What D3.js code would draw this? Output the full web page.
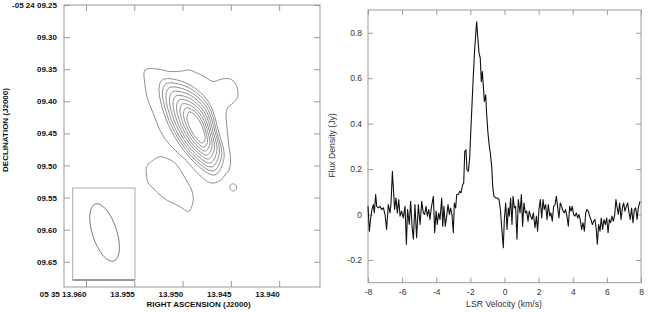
<!DOCTYPE html>
<html><head><meta charset="utf-8">
<script src="https://cdn.jsdelivr.net/npm/d3@7"></script>
<style>body{margin:0;background:#fff}svg{display:block}</style>
</head><body>
<svg id="c" width="654" height="312"></svg>
<script>
// ---------- Left panel data (RA seconds of 05h35m, Dec arcsec of -05d24') ----------
const raTicks = [13.960, 13.955, 13.950, 13.945, 13.940];
const raTickLabels = ["05 35 13.960", "13.955", "13.950", "13.945", "13.940"];
const decTicks = [9.25, 9.30, 9.35, 9.40, 9.45, 9.50, 9.55, 9.60, 9.65];
const decTickLabels = ["-05 24 09.25", "09.30", "09.35", "09.40", "09.45", "09.50", "09.55", "09.60", "09.65"];

const contourOuter = [[13.95389,9.35124],[13.95265,9.34968],[13.95130,9.35358],[13.95006,9.35280],[13.94934,9.35124],[13.94851,9.35592],[13.94768,9.36215],[13.94685,9.36915],[13.94592,9.36526],[13.94509,9.36526],[13.94457,9.37149],[13.94431,9.38084],[13.94431,9.39330],[13.94478,9.40264],[13.94530,9.40965],[13.94550,9.41978],[13.94545,9.43380],[13.94535,9.44937],[13.94525,9.46495],[13.94509,9.48052],[13.94504,9.49610],[13.94519,9.50700],[13.94561,9.51479],[13.94602,9.52258],[13.94654,9.52647],[13.94706,9.52725],[13.94757,9.52336],[13.94809,9.51713],[13.94861,9.50934],[13.94923,9.49921],[13.94975,9.48987],[13.95027,9.48364],[13.95078,9.47585],[13.95130,9.46806],[13.95172,9.46027],[13.95213,9.45093],[13.95254,9.43847],[13.95285,9.42601],[13.95327,9.41043],[13.95368,9.39330],[13.95389,9.37461]];
const contour2 = [[13.95203,9.36604],[13.94965,9.37149],[13.94737,9.39953],[13.94623,9.44937],[13.94571,9.48831],[13.94665,9.51479],[13.94903,9.49143],[13.95151,9.43535],[13.95244,9.37928]];
const contour3 = [[13.95169,9.37243],[13.94954,9.37757],[13.94747,9.40358],[13.94643,9.44922],[13.94596,9.48489],[13.94681,9.50856],[13.94897,9.48722],[13.95122,9.43613],[13.95208,9.38520]];
const contour4 = [[13.95136,9.37866],[13.94944,9.38364],[13.94757,9.40778],[13.94661,9.44906],[13.94620,9.48130],[13.94698,9.50233],[13.94892,9.48286],[13.95094,9.43691],[13.95172,9.39096]];
const contour5 = [[13.95101,9.38504],[13.94934,9.38956],[13.94768,9.41183],[13.94681,9.44875],[13.94645,9.47788],[13.94715,9.49610],[13.94887,9.47866],[13.95065,9.43769],[13.95136,9.39688]];
const contour6 = [[13.95068,9.39143],[13.94923,9.39564],[13.94778,9.41588],[13.94701,9.44859],[13.94670,9.47429],[13.94732,9.48987],[13.94882,9.47429],[13.95037,9.43847],[13.95099,9.40264]];
const contour7 = [[13.95034,9.39766],[13.94913,9.40171],[13.94789,9.41993],[13.94720,9.44844],[13.94695,9.47087],[13.94748,9.48364],[13.94877,9.47009],[13.95008,9.43925],[13.95063,9.40856]];
const contour8 = [[13.95001,9.40405],[13.94903,9.40778],[13.94799,9.42414],[13.94739,9.44828],[13.94718,9.46728],[13.94765,9.47741],[13.94872,9.46573],[13.94980,9.44003],[13.95027,9.41433]];
const contour9 = [[13.94967,9.41043],[13.94892,9.41370],[13.94809,9.42819],[13.94759,9.44797],[13.94743,9.46386],[13.94783,9.47118],[13.94866,9.46152],[13.94951,9.44081],[13.94991,9.42025]];
const contour10 = [[13.94934,9.41666],[13.94882,9.41978],[13.94820,9.43224],[13.94778,9.44782],[13.94768,9.46027],[13.94799,9.46495],[13.94861,9.45716],[13.94923,9.44158],[13.94954,9.42601]];
const contourSouth = [[13.95372,9.50186],[13.95303,9.49143],[13.95234,9.48629],[13.95164,9.48878],[13.95096,9.49408],[13.95044,9.50186],[13.94993,9.51479],[13.94941,9.52772],[13.94906,9.53815],[13.94889,9.55108],[13.94906,9.56417],[13.94941,9.57195],[13.94975,9.56931],[13.95027,9.56417],[13.95096,9.55887],[13.95164,9.55373],[13.95234,9.54594],[13.95303,9.53551],[13.95355,9.52772],[13.95372,9.51744]];
const contourKnot = [[13.94478,9.52850],[13.94447,9.53115],[13.94442,9.53582],[13.94473,9.53971],[13.94504,9.53737],[13.94509,9.53193]];
const beamRa = 13.95808, beamDec = 9.60435, beamMajor = 0.0935, beamMinor = 0.0380, beamPA = 18;
const insetRa = [13.96138, 13.95493], insetDec = [9.53504, 9.67834];

// ---------- Right panel data ----------
const velTicks = [-8, -6, -4, -2, 0, 2, 4, 6, 8];
const fluxTicks = [-0.2, 0, 0.2, 0.4, 0.6, 0.8];
const velocity = [-8.00,-7.92,-7.84,-7.77,-7.69,-7.63,-7.55,-7.49,-7.39,-7.30,-7.20,-7.10,-7.00,-6.91,-6.81,-6.71,-6.65,-6.57,-6.52,-6.44,-6.36,-6.28,-6.20,-6.12,-6.03,-5.93,-5.83,-5.75,-5.68,-5.58,-5.50,-5.42,-5.34,-5.25,-5.15,-5.05,-4.95,-4.85,-4.76,-4.68,-4.60,-4.52,-4.44,-4.37,-4.29,-4.17,-4.09,-4.01,-3.94,-3.86,-3.78,-3.68,-3.62,-3.55,-3.47,-3.39,-3.31,-3.23,-3.16,-3.08,-3.00,-2.94,-2.86,-2.80,-2.71,-2.63,-2.55,-2.45,-2.39,-2.33,-2.26,-2.20,-2.12,
-2.04,-1.98,-1.91,-1.83,-1.75,-1.67,-1.63,-1.57,-1.49,-1.42,-1.36,-1.30,-1.24,-1.18,-1.10,-1.05,-0.97,-0.89,-0.83,
-0.75,-0.69,-0.62,-0.52,-0.42,-0.32,-0.24,-0.17,-0.07,-0.01,0.07,0.15,0.22,0.28,0.36,0.44,0.50,0.58,0.65,0.73,0.81,0.91,0.99,1.06,1.14,1.22,1.30,1.38,1.45,1.53,1.61,1.69,1.79,1.87,1.94,2.02,2.10,2.18,2.26,2.33,2.41,2.49,2.57,2.65,2.72,2.80,2.88,2.96,3.04,3.12,3.19,3.27,3.35,3.43,3.51,3.58,3.66,3.74,3.82,3.90,3.97,4.05,4.13,4.21,4.29,4.37,4.44,4.52,4.60,4.68,4.76,4.83,4.91,4.99,5.07,5.15,5.23,5.30,5.38,5.44,5.52,5.60,5.67,5.75,5.83,5.91,5.99,6.07,6.14,6.22,6.30,6.38,6.46,6.53,6.59,6.67,6.75,6.83,6.91,6.98,7.06,7.14,7.22,7.30,7.37,7.45,7.53,7.61,7.69,7.77,7.84,7.94];
const flux = [0.036,-0.073,-0.015,0.022,0.044,0.007,0.088,0.036,0.029,0.036,0.022,0.029,0.000,-0.066,0.044,0.007,0.051,0.190,0.124,0.022,0.073,0.007,0.066,-0.007,0.015,-0.015,0.036,-0.131,0.022,-0.044,0.058,-0.051,-0.109,0.044,-0.102,0.044,-0.044,0.058,0.007,0.000,0.036,-0.007,0.022,-0.022,0.029,0.080,-0.080,0.015,-0.044,0.007,-0.022,0.073,-0.051,0.036,-0.051,-0.007,0.044,0.000,0.029,0.000,-0.080,0.051,0.029,0.088,0.088,0.102,0.095,0.131,0.139,0.277,0.285,0.197,0.190,
0.25,0.359,0.476,0.607,0.724,0.812,0.848,0.782,0.709,0.688,0.585,0.629,0.564,0.498,0.527,0.447,0.359,0.301,0.272,
0.212,0.124,0.080,0.073,0.073,0.066,0.022,-0.051,-0.146,-0.022,0.051,-0.066,0.029,-0.007,0.073,-0.044,0.080,0.029,0.036,-0.109,0.066,0.007,0.088,-0.051,0.051,0.007,0.015,-0.029,0.015,-0.007,-0.022,0.007,-0.058,-0.007,-0.073,0.022,0.066,-0.015,0.066,0.022,0.044,-0.022,0.044,-0.007,0.007,-0.029,0.036,0.044,0.080,0.029,-0.015,0.051,0.036,0.015,0.007,0.022,-0.007,-0.051,0.036,0.015,0.036,0.000,-0.007,0.007,-0.015,0.000,-0.022,-0.066,-0.036,-0.073,0.007,0.022,0.015,-0.007,-0.022,-0.044,-0.029,-0.022,-0.066,-0.131,-0.044,-0.073,-0.015,-0.066,-0.022,-0.044,-0.015,-0.080,-0.022,-0.036,-0.007,-0.029,0.000,0.066,0.036,0.000,0.051,-0.022,0.029,0.051,0.015,0.036,0.051,0.007,-0.022,0.029,-0.036,0.022,0.029,-0.022,0.029,0.058];

// ---------- Drawing ----------
const svg = d3.select("#c");
const FONT = "'Liberation Sans', Arial, Helvetica, sans-serif";
const frameColor = "#9a9a9a";

function styleAxis(g, color, size, weight) {
  g.select(".domain").remove();
  g.selectAll(".tick line").attr("stroke", frameColor).attr("stroke-width", 1);
  g.selectAll("text").attr("font-family", FONT).attr("font-size", size)
    .attr("font-weight", weight).attr("fill", color);
}

// Left panel
const x1 = d3.scaleLinear().domain([13.96228, 13.93577]).range([64, 320]);
const y1 = d3.scaleLinear().domain([9.25, 9.68925]).range([5, 287]);
const g1 = svg.append("g");

g1.append("rect").attr("x", x1.range()[0]).attr("y", y1.range()[0])
  .attr("width", x1.range()[1] - x1.range()[0]).attr("height", y1.range()[1] - y1.range()[0])
  .attr("fill", "none").attr("stroke", frameColor).attr("stroke-width", 1);

const contours = [contourOuter, contour2, contour3, contour4, contour5, contour6, contour7, contour8, contour9, contour10, contourSouth, contourKnot];
const cline = d3.line().x(d => x1(d[0])).y(d => y1(d[1])).curve(d3.curveCatmullRomClosed.alpha(0.5));
g1.selectAll("path.ct").data(contours).join("path").attr("class", "ct")
  .attr("d", cline).attr("fill", "none").attr("stroke", "#606060").attr("stroke-width", 0.7);

// inset beam box
g1.append("rect").attr("x", x1(insetRa[0])).attr("y", y1(insetDec[0]))
  .attr("width", x1(insetRa[1]) - x1(insetRa[0])).attr("height", y1(insetDec[1]) - y1(insetDec[0]))
  .attr("fill", "none").attr("stroke", frameColor).attr("stroke-width", 0.8);
g1.append("line").attr("x1", x1(insetRa[0])).attr("x2", x1(insetRa[1]))
  .attr("y1", y1(insetDec[1])).attr("y2", y1(insetDec[1]))
  .attr("stroke", frameColor).attr("stroke-width", 2);
const pxPerArcsec = y1(beamDec + 1) - y1(beamDec);
g1.append("ellipse")
  .attr("transform", `translate(${x1(beamRa)},${y1(beamDec)}) rotate(${-beamPA})`)
  .attr("rx", beamMinor / 2 * pxPerArcsec).attr("ry", beamMajor / 2 * pxPerArcsec)
  .attr("fill", "none").attr("stroke", "#606060").attr("stroke-width", 0.75);

const axL1 = g1.append("g").attr("transform", `translate(${x1.range()[0]},0)`)
  .call(d3.axisLeft(y1).tickValues(decTicks).tickSize(-6).tickPadding(7).tickFormat((d, i) => decTickLabels[i]));
styleAxis(axL1, "#111", 8, "bold");
const axR1 = g1.append("g").attr("transform", `translate(${x1.range()[1]},0)`)
  .call(d3.axisRight(y1).tickValues(decTicks).tickSize(-6).tickFormat(""));
styleAxis(axR1, "#111", 8, "bold");
const axB1 = g1.append("g").attr("transform", `translate(0,${y1.range()[1]})`)
  .call(d3.axisBottom(x1).tickValues(raTicks).tickSize(-6).tickPadding(4).tickFormat((d, i) => raTickLabels[i]));
styleAxis(axB1, "#111", 8, "bold");
axB1.selectAll("text").attr("text-anchor", "end");
const axT1 = g1.append("g").attr("transform", `translate(0,${y1.range()[0]})`)
  .call(d3.axisTop(x1).tickValues(raTicks).tickSize(-6).tickFormat(""));
styleAxis(axT1, "#111", 8, "bold");

g1.append("text").attr("x", 198.5).attr("y", 306.5).attr("text-anchor", "middle")
  .attr("font-family", FONT).attr("font-size", 8).attr("font-weight", "bold").attr("fill", "#111")
  .text("RIGHT ASCENSION (J2000)");
g1.append("text").attr("transform", "translate(8.3,130) rotate(-90)").attr("text-anchor", "middle")
  .attr("font-family", FONT).attr("font-size", 8).attr("font-weight", "bold").attr("fill", "#111")
  .text("DECLINATION (J2000)");

// Right panel
const x2 = d3.scaleLinear().domain([-8, 8]).range([368, 641]);
const y2 = d3.scaleLinear().domain([-0.3, 0.9]).range([282.7, 10]);
const g2 = svg.append("g");
g2.append("rect").attr("x", x2.range()[0]).attr("y", y2.range()[1])
  .attr("width", x2.range()[1] - x2.range()[0]).attr("height", y2.range()[0] - y2.range()[1])
  .attr("fill", "none").attr("stroke", frameColor).attr("stroke-width", 1);

const fmtFlux = d => (Math.abs(d) < 1e-9 ? "0" : d.toFixed(1));
const axL2 = g2.append("g").attr("transform", `translate(${x2.range()[0]},0)`)
  .call(d3.axisLeft(y2).tickValues(fluxTicks).tickSize(-5).tickPadding(6).tickFormat(fmtFlux));
styleAxis(axL2, "#333", 8.5, "normal");
const axR2 = g2.append("g").attr("transform", `translate(${x2.range()[1]},0)`)
  .call(d3.axisRight(y2).tickValues(fluxTicks).tickSize(-5).tickFormat(""));
styleAxis(axR2, "#333", 8.5, "normal");
const axB2 = g2.append("g").attr("transform", `translate(0,${y2.range()[0]})`)
  .call(d3.axisBottom(x2).tickValues(velTicks).tickSize(-5).tickPadding(6).tickFormat(d => String(d)));
styleAxis(axB2, "#333", 8.5, "normal");
const axT2 = g2.append("g").attr("transform", `translate(0,${y2.range()[1]})`)
  .call(d3.axisTop(x2).tickValues(velTicks).tickSize(-5).tickFormat(""));
styleAxis(axT2, "#333", 8.5, "normal");

const spec = d3.range(Math.min(velocity.length, flux.length)).map(i => [velocity[i], flux[i]]);
g2.append("path").datum(spec)
  .attr("d", d3.line().x(d => x2(d[0])).y(d => y2(d[1])))
  .attr("fill", "none").attr("stroke", "#111").attr("stroke-width", 1.1).attr("stroke-linejoin", "round");

g2.append("text").attr("x", 504).attr("y", 307).attr("text-anchor", "middle")
  .attr("font-family", FONT).attr("font-size", 8.7).attr("fill", "#333")
  .text("LSR Velocity (km/s)");
g2.append("text").attr("transform", "translate(335,145.5) rotate(-90)").attr("text-anchor", "middle")
  .attr("font-family", FONT).attr("font-size", 8.7).attr("fill", "#333")
  .text("Flux Density (Jy)");
</script>
</body></html>
